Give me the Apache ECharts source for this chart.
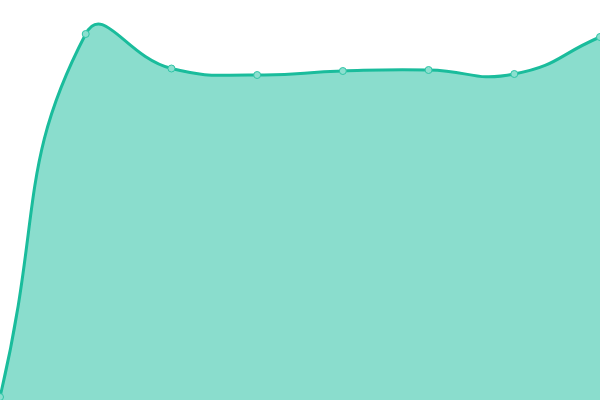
<!DOCTYPE html>
<html>
<head>
<meta charset="utf-8">
<script src="https://cdn.jsdelivr.net/npm/echarts@6/dist/echarts.min.js"></script>
<style>
  html, body { margin: 0; padding: 0; background: #fff; }
  #chart { width: 600px; height: 400px; }
</style>
</head>
<body>
<div id="chart"></div>
<script>
const categories = ['A', 'B', 'C', 'D', 'E', 'F', 'G', 'H'];
const values = [3, 366, 331.5, 325, 329, 330, 326, 363];

const LINE = '#1abc9c';
const SMOOTH = 0.5;

// older-style bezier smoothing (overshoots at peaks, like the source)
function smoothPath(pts) {
  let d = `M${pts[0][0]} ${pts[0][1]}`;
  const cps = pts.map((p, i) => {
    const prev = pts[Math.max(i - 1, 0)];
    const next = pts[Math.min(i + 1, pts.length - 1)];
    const vx = (next[0] - prev[0]) * SMOOTH;
    const vy = (next[1] - prev[1]) * SMOOTH;
    let d0 = Math.hypot(p[0] - prev[0], p[1] - prev[1]);
    let d1 = Math.hypot(p[0] - next[0], p[1] - next[1]);
    const sum = d0 + d1;
    if (sum) { d0 /= sum; d1 /= sum; }
    return {
      a: [p[0] - vx * d0, p[1] - vy * d0],
      b: [p[0] + vx * d1, p[1] + vy * d1]
    };
  });
  for (let i = 1; i < pts.length; i++) {
    const c1 = cps[i - 1].b, c2 = cps[i].a, p = pts[i];
    d += ` C${c1[0]} ${c1[1]} ${c2[0]} ${c2[1]} ${p[0]} ${p[1]}`;
  }
  return d;
}

const chart = echarts.init(document.getElementById('chart'));

chart.setOption({
  animation: false,
  grid: { left: 0, right: 0, top: 0, bottom: 0 },
  xAxis: {
    type: 'category',
    data: categories,
    boundaryGap: false,
    show: false
  },
  yAxis: {
    type: 'value',
    min: 0,
    max: 400,
    show: false
  },
  series: [{
    type: 'custom',
    data: [[0, values[0]]],
    renderItem: function (params, api) {
      const pts = values.map((v, i) => api.coord([i, v]));
      const line = smoothPath(pts);
      const base0 = api.coord([0, 0]);
      const base1 = api.coord([values.length - 1, 0]);
      const area = line + ` L${base1[0]} ${base1[1]} L${base0[0]} ${base0[1]} Z`;
      return {
        type: 'group',
        children: [{
          type: 'path',
          shape: { pathData: area },
          style: { fill: LINE, opacity: 0.51, stroke: null }
        }, {
          type: 'path',
          shape: { pathData: line },
          style: { fill: null, stroke: LINE, lineWidth: 3 }
        }]
      };
    },
    z: 2
  }, {
    type: 'line',
    data: values,
    symbol: 'circle',
    symbolSize: 7,
    lineStyle: { opacity: 0 },
    itemStyle: { color: '#8cdfcf', borderColor: '#2fc4a6', borderWidth: 1 },
    z: 3
  }]
});
</script>
</body>
</html>
